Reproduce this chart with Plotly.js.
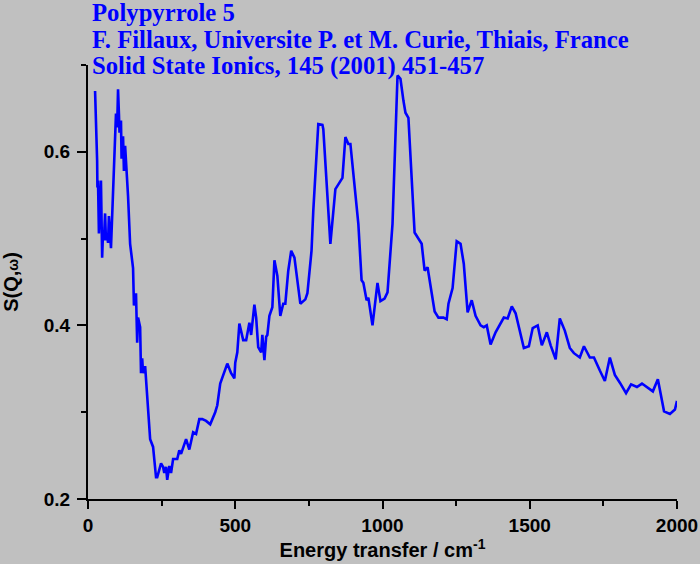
<!DOCTYPE html>
<html>
<head>
<meta charset="utf-8">
<script src="https://cdn.plot.ly/plotly-3.0.1.min.js"></script>
<style>html,body{margin:0;padding:0;background:#c0c0c0;}</style>
</head>
<body>
<div id="chart" style="width:700px;height:564px;"></div>
<script>
// Energy transfer (cm^-1)
const energy = [24,27,31,32,34,37,44,48,51,54,58,61,65,68,71,78,82,85,88,95,99,102,105,107,112,114,119,122,126,129,133,136,143,146,153,156,163,167,170,177,180,184,187,194,201,211,221,231,235,248,255,259,265,269,276,282,289,303,310,316,333,344,357,367,378,388,401,415,432,439,449,473,486,497,500,507,514,527,537,548,554,565,571,578,588,592,599,605,609,616,626,633,643,653,663,670,680,690,701,711,721,738,745,759,765,782,796,799,823,840,864,874,884,891,912,918,929,935,946,952,966,983,993,1007,1017,1034,1051,1061,1071,1078,1088,1109,1133,1143,1153,1177,1190,1207,1218,1224,1238,1252,1265,1276,1289,1303,1316,1333,1344,1354,1367,1384,1412,1425,1439,1452,1480,1497,1510,1527,1541,1558,1571,1588,1602,1619,1636,1650,1670,1684,1704,1718,1738,1755,1772,1789,1806,1827,1844,1864,1881,1901,1918,1935,1956,1976,1993,2000];
// S(Q,w)
const sqw = [0.670,0.644,0.590,0.559,0.567,0.506,0.567,0.478,0.507,0.498,0.529,0.498,0.506,0.495,0.526,0.489,0.529,0.552,0.598,0.644,0.628,0.672,0.644,0.622,0.636,0.592,0.618,0.578,0.607,0.590,0.555,0.549,0.494,0.487,0.466,0.423,0.437,0.380,0.409,0.398,0.345,0.362,0.345,0.353,0.314,0.269,0.260,0.225,0.225,0.241,0.237,0.230,0.237,0.222,0.238,0.230,0.246,0.246,0.256,0.252,0.269,0.257,0.277,0.275,0.292,0.292,0.290,0.286,0.300,0.308,0.333,0.356,0.345,0.339,0.357,0.369,0.402,0.383,0.383,0.403,0.389,0.424,0.409,0.375,0.369,0.389,0.360,0.387,0.389,0.411,0.421,0.475,0.457,0.411,0.425,0.425,0.463,0.486,0.478,0.448,0.425,0.430,0.437,0.486,0.532,0.632,0.631,0.626,0.494,0.557,0.570,0.617,0.609,0.609,0.532,0.517,0.452,0.449,0.429,0.432,0.400,0.449,0.428,0.431,0.438,0.517,0.688,0.684,0.659,0.645,0.639,0.507,0.494,0.463,0.467,0.416,0.409,0.409,0.407,0.425,0.443,0.497,0.494,0.471,0.415,0.429,0.411,0.400,0.398,0.400,0.378,0.392,0.409,0.408,0.422,0.414,0.374,0.376,0.397,0.400,0.377,0.392,0.377,0.361,0.408,0.394,0.374,0.368,0.363,0.376,0.363,0.363,0.348,0.336,0.363,0.343,0.334,0.322,0.332,0.329,0.333,0.328,0.324,0.338,0.301,0.298,0.303,0.313];

const titleLines = ["Polypyrrole 5", "F. Fillaux, Universite P. et M. Curie, Thiais, France", "Solid State Ionics, 145 (2001) 451-457"];
const xTitle = "Energy transfer / cm<sup>-1</sup>";
const yTitle = "S(Q,<span style=\"font-size:14px\">\u03c9</span>)";
const xTickVals = [0, 500, 1000, 1500, 2000];
const yTickVals = [0.2, 0.4, 0.6];
const yTickText = ["0.2", "0.4", "0.6"];

const bg = '#c0c0c0';
const tickFont = {family: 'Liberation Sans, Arial, sans-serif', size: 19, color: '#000', weight: 'bold'};
const axTitleFont = {family: 'Liberation Sans, Arial, sans-serif', size: 20, color: '#000', weight: 'bold'};
const headFont = {family: 'Liberation Serif, Times New Roman, serif', size: 24.7, color: '#0000ff', weight: 'bold'};

const data = [{
  x: energy, y: sqw, type: 'scatter', mode: 'lines',
  line: {color: '#0000ff', width: 2.6},
  hoverinfo: 'skip'
}];

const headY = [1.1221, 1.0599, 0.9977];
const annotations = titleLines.map((t, i) => ({
  text: t, xref: 'paper', yref: 'paper', x: 0.0034, y: headY[i],
  xanchor: 'left', yanchor: 'middle', showarrow: false, font: headFont
}));

const layout = {
  width: 700, height: 564,
  paper_bgcolor: bg, plot_bgcolor: bg,
  showlegend: false,
  margin: {l: 88, r: 23, t: 65, b: 65, pad: 0},
  annotations: annotations,
  xaxis: {
    range: [0, 2000], tickvals: xTickVals, ticktext: xTickVals.map(String),
    showgrid: false, zeroline: false,
    showline: true, linecolor: '#000', linewidth: 2, mirror: false,
    ticks: 'outside', ticklen: 8, tickwidth: 2, tickcolor: '#000',
    minor: {dtick: 250, tick0: 0, ticks: 'outside', ticklen: 5, tickwidth: 2, tickcolor: '#000', showgrid: false},
    tickfont: tickFont,
    title: {text: xTitle, font: axTitleFont, standoff: 4}
  },
  yaxis: {
    range: [0.2, 0.7], tickvals: yTickVals, ticktext: yTickText,
    showgrid: false, zeroline: false,
    showline: true, linecolor: '#000', linewidth: 2, mirror: false,
    ticks: 'outside', ticklen: 9, tickwidth: 2, tickcolor: '#000',
    minor: {dtick: 0.1, tick0: 0.2, ticks: 'outside', ticklen: 5, tickwidth: 2, tickcolor: '#000', showgrid: false},
    tickfont: tickFont, ticklabelstandoff: 3,
    title: {text: yTitle, font: axTitleFont, standoff: 24}
  }
};

Plotly.newPlot('chart', data, layout, {staticPlot: true, displayModeBar: false});
</script>
</body>
</html>
